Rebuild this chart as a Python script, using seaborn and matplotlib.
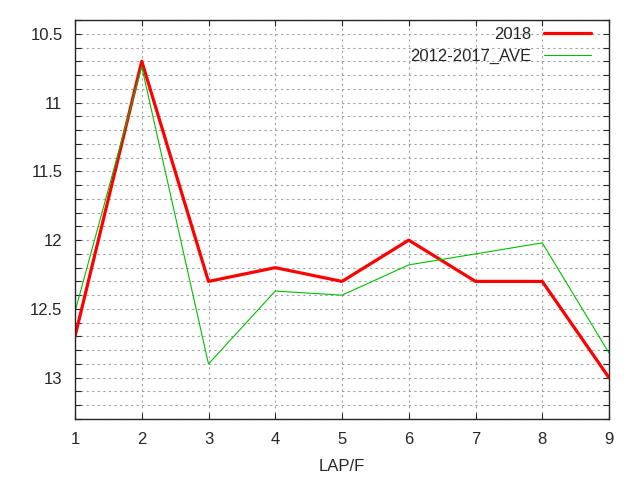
import pandas as pd
import numpy as np
import seaborn as sns
import matplotlib.pyplot as plt
from matplotlib.ticker import MultipleLocator

laps = [1, 2, 3, 4, 5, 6, 7, 8, 9]
y2018 = [12.7, 10.7, 12.3, 12.2, 12.3, 12.0, 12.3, 12.3, 13.0]
ave = [12.52, 10.74, 12.90, 12.37, 12.40, 12.18, 12.10, 12.02, 12.82]

df = pd.DataFrame({'LAP': laps * 2,
                   'time': y2018 + ave,
                   'series': ['2018'] * 9 + ['2012-2017_AVE'] * 9})

sns.set_style('ticks')
plt.rcParams['font.family'] = ['Liberation Sans', 'DejaVu Sans']

fig = plt.figure(figsize=(6.4, 4.8), dpi=100)
ax = fig.add_axes([75/640, 1 - 419/480, (609-75)/640, (419-20)/480])

sns.lineplot(data=df, x='LAP', y='time', hue='series', size='series',
             palette={'2018': '#ff0000', '2012-2017_AVE': '#00c000'},
             sizes={'2018': 2.3, '2012-2017_AVE': 0.8}, ax=ax)

ax.set_xlim(1, 9)
ax.set_ylim(13.3, 10.4)
ax.xaxis.set_major_locator(MultipleLocator(1))
ax.yaxis.set_minor_locator(MultipleLocator(0.1))
ax.set_yticks([10.5, 11, 11.5, 12, 12.5, 13])
ax.set_yticklabels(['10.5', '11', '11.5', '12', '12.5', '13'])

ax.grid(True, which='major', axis='both', color='#a0a0a0', linestyle=(0, (2, 3)), linewidth=0.8)
ax.grid(True, which='minor', axis='y', color='#a0a0a0', linestyle=(0, (2, 3)), linewidth=0.8)
ax.tick_params(which='both', direction='in', top=True, right=True, length=4, width=0.8, labelsize=12, pad=9)
for s in ax.spines.values():
    s.set_linewidth(1)

ax.set_xlabel('LAP/F', fontsize=12, labelpad=9)
ax.set_ylabel('')

h, l = ax.get_legend_handles_labels()
ax.legend(h, l, loc='upper right', bbox_to_anchor=(1 - 18/534, 1 - 7/399),
          frameon=False, markerfirst=False, fontsize=12, borderpad=0, borderaxespad=0,
          handlelength=2.8, handletextpad=0.78, labelspacing=0.4)

fig.savefig('out.png', dpi=100)
